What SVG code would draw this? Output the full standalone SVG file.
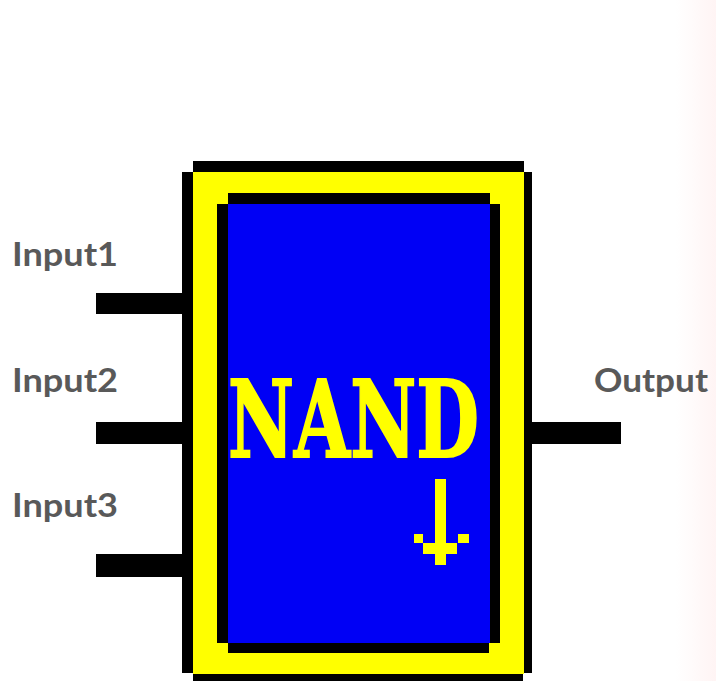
<svg xmlns="http://www.w3.org/2000/svg" width="716" height="681" viewBox="0 0 716 681">
<style>
.k{fill:#000}.y{fill:#ff0}.b{fill:#0000f5}
.l{font-family:Lato,"Liberation Sans",sans-serif;font-weight:700;font-size:33px;fill:#595959}
.t{font-family:"DejaVu Serif",serif;font-weight:700;font-size:107px;fill:#ff0;stroke:#ff0;stroke-width:2}
</style>
<defs><linearGradient id="e" x1="0" x2="1" y1="0" y2="0"><stop offset="0" stop-color="#fff"/><stop offset="1" stop-color="#fff4f4"/></linearGradient></defs>
<rect width="716" height="681" fill="#fff"/>
<rect x="676" width="40" height="681" fill="url(#e)"/>
<g id="connectors" class="k">
<rect x="96" y="293" width="87" height="21"/>
<rect x="96" y="422" width="87" height="22"/>
<rect x="96" y="554" width="87" height="23"/>
<rect x="531" y="422" width="90" height="22"/>
</g>
<g id="node-nand">
<rect class="y" x="193" y="172" width="331" height="502"/>
<rect class="k" x="193" y="161" width="331" height="11"/>
<rect class="k" x="193" y="674" width="330" height="7"/>
<rect class="k" x="182" y="172" width="11" height="501"/>
<rect class="k" x="524" y="172" width="8" height="501"/>
<rect class="k" x="228" y="193" width="262" height="11"/>
<rect class="k" x="228" y="643" width="261" height="10"/>
<rect class="k" x="217" y="204" width="11" height="439"/>
<rect class="k" x="490" y="204" width="10" height="439"/>
<rect class="b" x="228" y="204" width="262" height="439"/>
<text class="t" x="228" y="457" textLength="251" lengthAdjust="spacingAndGlyphs">NAND</text>
<g class="y">
<rect x="435" y="479" width="11" height="86"/>
<rect x="423" y="543" width="34" height="11"/>
<rect x="414" y="534" width="9" height="9"/>
<rect x="458" y="534" width="11" height="9"/>
</g>
</g>
<g id="label-input1"><text class="l" x="12" y="266" textLength="106" lengthAdjust="spacingAndGlyphs">Input1</text></g>
<g id="label-input2"><text class="l" x="12" y="392" textLength="106" lengthAdjust="spacingAndGlyphs">Input2</text></g>
<g id="label-input3"><text class="l" x="12" y="517" textLength="106" lengthAdjust="spacingAndGlyphs">Input3</text></g>
<g id="label-output"><text class="l" x="594" y="392" textLength="114" lengthAdjust="spacingAndGlyphs">Output</text></g>
</svg>
